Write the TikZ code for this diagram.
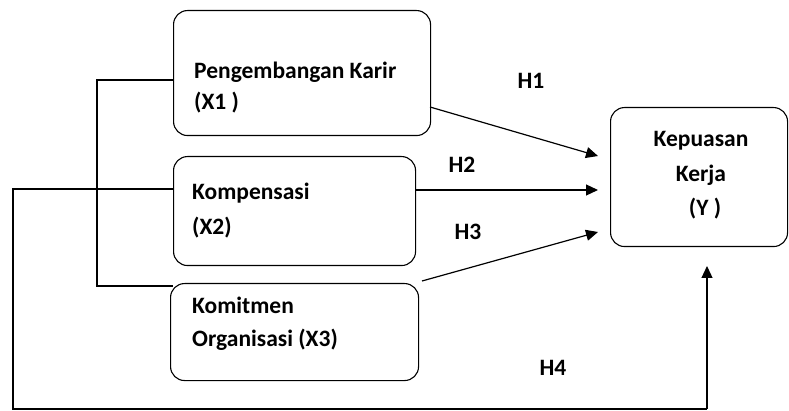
\documentclass[tikz,border=0pt]{standalone}
\usepackage{fontspec}
\setmainfont{Carlito}
\usetikzlibrary{arrows.meta}
\begin{document}
\begin{tikzpicture}[x=1pt,y=-1pt,
  box/.style={draw, line width=1.1pt, rounded corners=14pt, anchor=north west, inner sep=0pt},
  lbl/.style={font=\fontsize{23.5}{31}\selectfont\bfseries, inner sep=0pt},
  conn/.style={line width=1.1pt},
  arr/.style={line width=1.2pt, -{Triangle[length=12pt,width=11pt]}}]
\useasboundingbox (0,0) rectangle (789,411);
% boxes
\node[box, minimum width=257pt, minimum height=125pt] (x1) at (173,10) {};
\node[box, minimum width=242pt, minimum height=109pt] (x2) at (173,156) {};
\node[box, minimum width=248pt, minimum height=97pt] (x3) at (170,283) {};
\node[box, minimum width=177pt, minimum height=139pt] (y) at (610,107) {};
% texts
\node[lbl, anchor=west] (t1a) at (194,72) {Pengembangan Karir};
\node[lbl, anchor=west] (t1b) at (194,103) {(X1 )};
\node[lbl, anchor=west] (t2a) at (192,193) {Kompensasi};
\node[lbl, anchor=west] (t2b) at (192,228) {(X2)};
\node[lbl, anchor=west] (t3a) at (192,305) {Komitmen};
\node[lbl, anchor=west] (t3b) at (192,340) {Organisasi (X3)};
\node[lbl] (tya) at (701,141) {Kepuasan};
\node[lbl] (tyb) at (701,175) {Kerja};
\node[lbl] (tyc) at (705,209) {(Y )};
% hypothesis labels
\node[lbl] (h1) at (531,81) {H1};
\node[lbl] (h2) at (462,165) {H2};
\node[lbl] (h3) at (468,232) {H3};
\node[lbl] (h4) at (553,368) {H4};
% coordinates
\coordinate (b1) at (97,80);
\coordinate (b2) at (97,286);
\coordinate (o1) at (13,189);
\coordinate (o2) at (13,409);
\coordinate (o3) at (707,409);
\coordinate (yb) at (707,266);
\coordinate (e1) at (598,156);
\coordinate (e2) at (598,190);
\coordinate (e3) at (598,232);
\coordinate (s1) at (430,107);
\coordinate (s2) at (415,190);
\coordinate (s3) at (422,281);
% bracket
\draw[conn] (b1 -| x1.west) -- (b1) -- (b2) -- (b2 -| x1.west);
% outer loop
\draw[conn] (o1 -| x2.west) -- (o1) -- (o2) -- (o3);
\draw[arr] (o3) -- (yb);
% arrows
\draw[arr] (s1) -- (e1);
\draw[arr] (s2) -- (e2);
\draw[arr] (s3) -- (e3);
\end{tikzpicture}
\end{document}
